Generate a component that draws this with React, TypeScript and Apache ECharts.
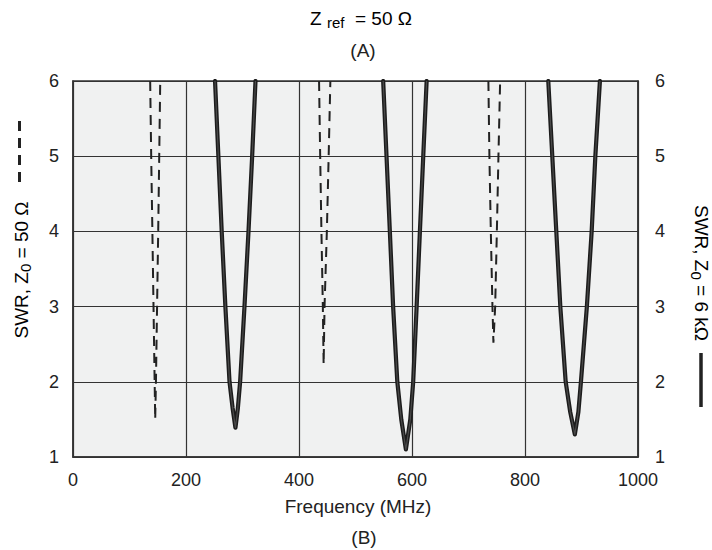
import React, { useEffect, useRef } from "react";
import * as echarts from "echarts";

// ---- data (frequency MHz, SWR) ----
const xTicks = [0, 200, 400, 600, 800, 1000];
const yTicks = [1, 2, 3, 4, 5, 6];

// Dashed curves: SWR, Z0 = 50 Ω
const dashed1: [number, number][] = [
  [136.6, 6], [138.4, 5], [140.5, 4], [142.5, 3], [144.5, 2], [145.5, 1.5],
  [146.8, 2], [148.8, 3], [150.8, 4], [152.6, 5], [154.4, 6],
];
const dashed2: [number, number][] = [
  [435.5, 6], [437.5, 5], [439.7, 4], [442.2, 3], [443.6, 2.23],
  [445.2, 3], [449.3, 4], [452.5, 5], [455.5, 6],
];
const dashed3: [number, number][] = [
  [735.2, 6], [737.0, 5], [739.5, 4], [742.4, 3], [744.1, 2.52],
  [747.2, 3], [750.2, 4], [753.0, 5], [756.0, 6],
];

// Solid curves: SWR, Z0 = 6 kΩ
const solid1: [number, number][] = [
  [251.4, 6], [257.3, 5], [263.2, 4], [269.7, 3], [277.0, 2], [282.5, 1.65], [287.5, 1.39],
  [291.8, 1.65], [295.8, 2], [303.5, 3], [310.6, 4], [317.1, 5], [323.0, 6],
];
const solid2: [number, number][] = [
  [549.0, 6], [554.9, 5], [560.8, 4], [566.6, 3], [574.0, 2], [581.0, 1.5],
  [589.2, 1.1], [597.0, 1.5], [602.1, 2], [608.2, 3], [614.0, 4], [619.9, 5], [625.9, 6],
];
const solid3: [number, number][] = [
  [841.2, 6], [848.3, 5], [855.4, 4], [862.5, 3], [872.0, 2], [880.0, 1.6], [888.2, 1.3],
  [894.5, 1.6], [899.0, 2], [909.5, 3], [918.0, 4], [924.5, 5], [932.6, 6],
];

const FONT = "'Liberation Sans', Arial, Helvetica, sans-serif";
const INK = "#222";

export default function App() {
  const ref = useRef<HTMLDivElement>(null);

  useEffect(() => {
    if (!ref.current) return;
    const chart = echarts.init(ref.current, null, { renderer: "svg" });

    const dashedStyle = { color: INK, width: 2, type: [10, 7] as any };
    const mkDashed = (data: [number, number][]) => ({
      type: "line",
      data,
      symbol: "none",
      silent: true,
      yAxisIndex: 0,
      lineStyle: dashedStyle,
      z: 3,
    });
    const mkSolidOuter = (data: [number, number][]) => ({
      type: "line",
      data,
      symbol: "none",
      silent: true,
      yAxisIndex: 1,
      lineStyle: { color: "#1c1c1c", width: 4.2, join: "round", cap: "round" },
      z: 4,
    });
    const mkSolidInner = (data: [number, number][]) => ({
      type: "line",
      data,
      symbol: "none",
      silent: true,
      yAxisIndex: 1,
      lineStyle: { color: "#4a4a4a", width: 1.2, join: "round" },
      z: 5,
    });

    const richMain = { fontSize: 19, lineHeight: 24, fontFamily: FONT, color: INK };
    const richSub = {
      fontSize: 15,
      lineHeight: 15,
      verticalAlign: "bottom",
      fontFamily: FONT,
      color: INK,
    };

    const axisLabel = { color: INK, fontSize: 18, fontFamily: FONT };

    chart.setOption({
      animation: false,
      backgroundColor: "#ffffff",
      grid: {
        left: 73,
        right: 74,
        top: 81,
        bottom: 93,
        show: true,
        backgroundColor: "#f0f1f1",
        borderColor: "#333",
        borderWidth: 1.5,
      },
      xAxis: {
        type: "value",
        min: 0,
        max: 1000,
        interval: 200,
        axisLine: { show: true, lineStyle: { color: "#333", width: 1.5 } },
        axisTick: { show: false },
        axisLabel: {
          ...axisLabel,
          margin: 14,
          customValues: xTicks,
          formatter: (v: number) => String(v),
        },
        splitLine: { show: true, lineStyle: { color: "#333", width: 1.2 } },
      },
      yAxis: [
        {
          type: "value",
          position: "left",
          min: 1,
          max: 6,
          interval: 1,
          axisLine: { show: true, lineStyle: { color: "#333", width: 1.5 } },
          axisTick: { show: false },
          axisLabel: { ...axisLabel, margin: 14, customValues: yTicks },
          splitLine: { show: true, lineStyle: { color: "#333", width: 1.2 } },
        },
        {
          type: "value",
          position: "right",
          min: 1,
          max: 6,
          interval: 1,
          axisLine: { show: true, lineStyle: { color: "#333", width: 1.5 } },
          axisTick: { show: false },
          axisLabel: { ...axisLabel, margin: 17, customValues: yTicks },
          splitLine: { show: false },
        },
      ],
      series: [
        mkDashed(dashed1),
        mkDashed(dashed2),
        mkDashed(dashed3),
        mkSolidOuter(solid1),
        mkSolidOuter(solid2),
        mkSolidOuter(solid3),
        mkSolidInner(solid1),
        mkSolidInner(solid2),
        mkSolidInner(solid3),
      ],
      graphic: [
        {
          type: "text",
          x: 361,
          y: 18,
          style: {
            text: "{m|Z }{s|ref}{m|  = 50 Ω}",
            rich: { m: richMain, s: richSub },
            align: "center",
            verticalAlign: "middle",
          },
        },
        {
          type: "text",
          x: 363,
          y: 50,
          style: {
            text: "(A)",
            font: `19px ${FONT}`,
            fill: INK,
            align: "center",
            verticalAlign: "middle",
          },
        },
        {
          type: "text",
          x: 358,
          y: 506,
          style: {
            text: "Frequency (MHz)",
            font: `19px ${FONT}`,
            fill: INK,
            align: "center",
            verticalAlign: "middle",
          },
        },
        {
          type: "text",
          x: 364,
          y: 537,
          style: {
            text: "(B)",
            font: `19px ${FONT}`,
            fill: INK,
            align: "center",
            verticalAlign: "middle",
          },
        },
        // left axis title
        {
          type: "text",
          x: 21,
          y: 270,
          rotation: Math.PI / 2,
          style: {
            text: "{m|SWR, Z}{s|0}{m| = 50 Ω}",
            rich: { m: richMain, s: richSub },
            align: "center",
            verticalAlign: "middle",
          },
        },
        {
          type: "line",
          shape: { x1: 19.5, y1: 121, x2: 19.5, y2: 187 },
          style: { stroke: INK, lineWidth: 3, lineDash: [10, 7] },
        },
        // right axis title
        {
          type: "text",
          x: 701,
          y: 273,
          rotation: -Math.PI / 2,
          style: {
            text: "{m|SWR, Z}{s|0}{m| = 6 kΩ}",
            rich: { m: richMain, s: richSub },
            align: "center",
            verticalAlign: "middle",
          },
        },
        {
          type: "line",
          shape: { x1: 701, y1: 353, x2: 701, y2: 407 },
          style: { stroke: INK, lineWidth: 3.5 },
        },
      ],
    });

    return () => chart.dispose();
  }, []);

  return (
    <div
      ref={ref}
      style={{ position: "fixed", left: 0, top: 0, width: 712, height: 550, background: "#fff" }}
    />
  );
}
